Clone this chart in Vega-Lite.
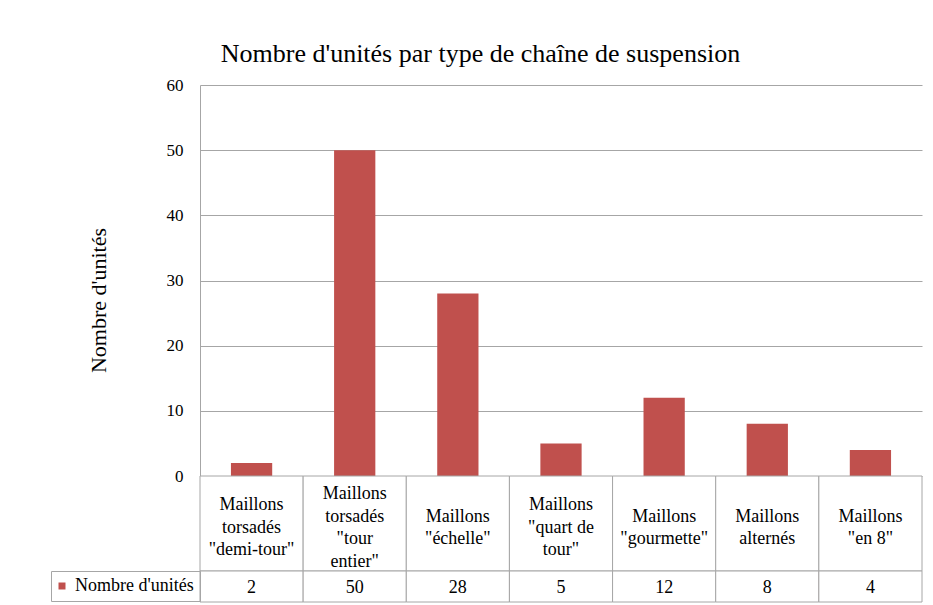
{
  "$schema": "https://vega.github.io/schema/vega-lite/v6.json",
  "padding": {"left": 50, "top": 41, "right": 11, "bottom": 3},
  "background": "white",
  "bounds": "flush",
  "title": {
    "text": "Nombre d'unités par type de chaîne de suspension",
    "anchor": "middle",
    "font": "Liberation Serif",
    "fontSize": 26,
    "fontWeight": "normal",
    "color": "#000000",
    "offset": 9,
    "dx": -6
  },
  "datasets": {
    "chaines": [
      {"type": "Maillons\ntorsadés\n\"demi-tour\"", "lignes": 3, "unites": 2, "serie": "Nombre d'unités"},
      {"type": "Maillons\ntorsadés\n\"tour\nentier\"", "lignes": 4, "unites": 50, "serie": "Nombre d'unités"},
      {"type": "Maillons\n\"échelle\"", "lignes": 2, "unites": 28, "serie": "Nombre d'unités"},
      {"type": "Maillons\n\"quart de\ntour\"", "lignes": 3, "unites": 5, "serie": "Nombre d'unités"},
      {"type": "Maillons\n\"gourmette\"", "lignes": 2, "unites": 12, "serie": "Nombre d'unités"},
      {"type": "Maillons\nalternés", "lignes": 2, "unites": 8, "serie": "Nombre d'unités"},
      {"type": "Maillons\n\"en 8\"", "lignes": 2, "unites": 4, "serie": "Nombre d'unités"}
    ]
  },
  "data": {"name": "chaines"},
  "spacing": 0,
  "resolve": {
    "scale": {"color": "independent", "x": "independent", "y": "independent"},
    "legend": {"color": "independent"}
  },
  "vconcat": [
    {
      "width": 722,
      "height": 391,
      "mark": {"type": "bar", "color": "#c0504d", "width": {"band": 0.4}},
      "encoding": {
        "x": {
          "field": "type", "type": "nominal", "sort": null, "axis": null,
          "scale": {"paddingInner": 0, "paddingOuter": 0}
        },
        "y": {
          "field": "unites", "type": "quantitative",
          "scale": {"domain": [0, 60], "nice": false},
          "axis": {
            "title": "Nombre d'unités",
            "values": [0, 10, 20, 30, 40, 50, 60],
            "grid": true,
            "gridColor": "#a6a6a6",
            "domainColor": "#a6a6a6",
            "ticks": false,
            "labelPadding": 17,
            "labelFont": "Liberation Serif",
            "labelFontSize": 17,
            "labelColor": "#000000",
            "titleFont": "Liberation Serif",
            "titleFontSize": 22,
            "titleFontWeight": "normal",
            "titleColor": "#000000",
            "titlePadding": 56,
            "titleY": 215
          }
        }
      }
    },
    {
      "width": 722,
      "height": 95,
      "encoding": {
        "x": {
          "field": "type", "type": "nominal", "sort": null, "axis": null,
          "scale": {"paddingInner": 0, "paddingOuter": 0}
        }
      },
      "layer": [
        {"mark": {"type": "rect", "fill": "white", "stroke": "#a6a6a6", "strokeWidth": 1}},
        {
          "mark": {
            "type": "text", "lineBreak": "\n", "font": "Liberation Serif",
            "fontSize": 18, "lineHeight": 22.5, "baseline": "middle", "color": "#000000", "dy": 4.5
          },
          "encoding": {
            "text": {"field": "type"},
            "y": {
              "field": "lignes", "type": "quantitative", "axis": null,
              "scale": {"domain": [-3.2222, 5.2222], "nice": false, "zero": false}
            }
          }
        }
      ]
    },
    {
      "width": 722,
      "height": 31,
      "encoding": {
        "x": {
          "field": "type", "type": "nominal", "sort": null, "axis": null,
          "scale": {"paddingInner": 0, "paddingOuter": 0}
        }
      },
      "layer": [
        {
          "mark": {"type": "rect"},
          "encoding": {
            "color": {
              "field": "serie", "type": "nominal",
              "scale": {"range": ["#c0504d"]},
              "legend": {"title": null, "orient": "left", "offset": 0}
            }
          }
        },
        {"mark": {"type": "rect", "fill": "white", "stroke": "#a6a6a6", "strokeWidth": 1}},
        {
          "mark": {
            "type": "text", "font": "Liberation Serif", "fontSize": 18,
            "baseline": "middle", "color": "#000000", "dy": 1
          },
          "encoding": {"text": {"field": "unites"}}
        }
      ]
    }
  ],
  "config": {
    "view": {"stroke": null},
    "legend": {
      "padding": 6,
      "strokeColor": "#a6a6a6",
      "labelFont": "Liberation Serif",
      "labelFontSize": 18,
      "labelColor": "#000000",
      "labelOffset": 4,
      "symbolType": "square",
      "symbolSize": 49,
      "symbolStrokeWidth": 0,
      "symbolOffset": -4,
      "offset": 0
    }
  }
}
